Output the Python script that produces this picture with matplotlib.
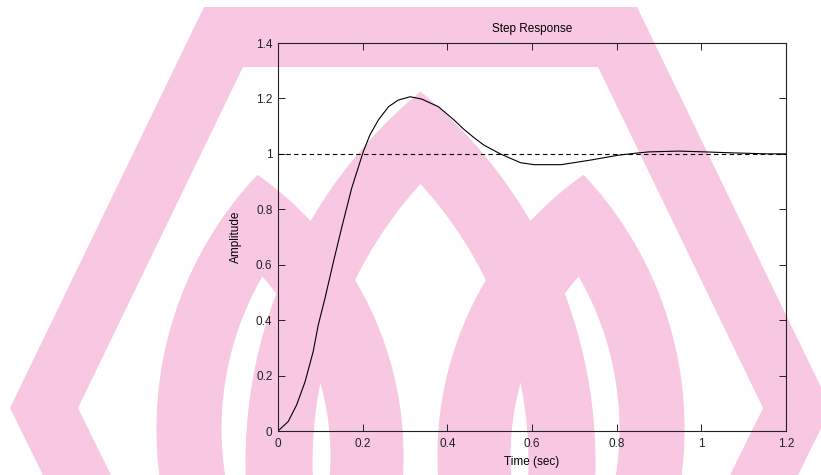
import numpy as np
import matplotlib
matplotlib.use("Agg")
import matplotlib.pyplot as plt
from matplotlib.path import Path
from matplotlib.patches import PathPatch, Polygon
from matplotlib.ticker import FuncFormatter

# step response
time = [0, 0.024, 0.044, 0.064, 0.083, 0.095, 0.111, 0.131, 0.150, 0.174,
        0.194, 0.2015, 0.217, 0.237, 0.261, 0.284, 0.312, 0.339, 0.379, 0.416,
        0.438, 0.465, 0.486, 0.525, 0.573, 0.605, 0.669, 0.740, 0.803, 0.843,
        0.875, 0.947, 1.010, 1.065, 1.11, 1.153, 1.2]
amp = [0, 0.034, 0.094, 0.178, 0.286, 0.382, 0.479, 0.611, 0.731, 0.876,
       0.972, 1.008, 1.068, 1.122, 1.170, 1.194, 1.206, 1.198, 1.170, 1.122,
       1.09, 1.056, 1.032, 1.0, 0.968, 0.961, 0.961, 0.978, 0.995, 1.002,
       1.007, 1.010, 1.007, 1.004, 1.002, 1.0, 1.0]
final_value = 1.0
xticks = [0, 0.2, 0.4, 0.6, 0.8, 1.0, 1.2]
yticks = [0, 0.2, 0.4, 0.6, 0.8, 1.0, 1.2, 1.4]

PINK = "#f8c8e2"
W, H = 821, 475


def meet(c1, r1, c2, r2):
    # upper crossing of two circles (pixel coords, y down)
    (x1, y1), (x2, y2) = c1, c2
    dx, dy = x2 - x1, y2 - y1
    d = np.hypot(dx, dy)
    a = (r1**2 - r2**2 + d**2) / (2 * d)
    h = np.sqrt(max(r1**2 - a**2, 0))
    mx, my = x1 + a * dx / d, y1 + a * dy / d
    p1 = (mx + h * dy / d, my - h * dx / d)
    p2 = (mx - h * dy / d, my + h * dx / d)
    return p1 if p1[1] < p2[1] else p2


def leg(c, ro, ri, top_o, top_i, span=75):
    side = -1 if c[0] > top_o[0] else 1
    a_o = np.degrees(np.arctan2(top_o[1] - c[1], top_o[0] - c[0]))
    a_i = np.degrees(np.arctan2(top_i[1] - c[1], top_i[0] - c[0]))
    end = a_o + side * span
    t_o = np.radians(np.linspace(a_o, end, 80))
    t_i = np.radians(np.linspace(end, a_i, 80))
    pts = np.vstack([np.c_[c[0] + ro * np.cos(t_o), c[1] + ro * np.sin(t_o)],
                     np.c_[c[0] + ri * np.cos(t_i), c[1] + ri * np.sin(t_i)]])
    return pts


def arch(bg, left, right):
    # left/right = (centre, outer radius, inner radius)
    top_o = meet(left[0], left[1], right[0], right[1])
    top_i = meet(left[0], left[2], right[0], right[2])
    for c, ro, ri in (left, right):
        bg.add_patch(Polygon(leg(c, ro, ri, top_o, top_i), closed=True,
                             fc=PINK, ec=PINK, lw=0.8))


fig = plt.figure(figsize=(W / 100, H / 100), dpi=100)
fig.patch.set_facecolor("white")

# watermark behind the plot
bg = fig.add_axes([0, 0, 1, 1], zorder=-1)
bg.set_xlim(0, W)
bg.set_ylim(H, 0)
bg.axis("off")

outer = [(204, 7), (637, 7), (831, 408), (776, 520), (65, 520), (10, 408)]
inner = [(243, 67), (598, 67), (763, 408), (708, 520), (133, 520), (78, 408)]
verts = outer + [outer[0]] + inner[::-1] + [inner[-1]]
codes = ([Path.MOVETO] + [Path.LINETO] * (len(outer) - 1) + [Path.CLOSEPOLY]) * 2
bg.add_patch(PathPatch(Path(verts, codes), fc=PINK, ec="none"))

mx = 841  # twice the mirror line
arch(bg, ((527, 429), 370, 306), ((60, 456), 343, 271))
arch(bg, ((727, 463), 481, 415), ((mx - 727, 463), 481, 415))
arch(bg, ((mx - 60, 456), 343, 271), ((mx - 527, 429), 370, 306))

# the chart
plt.rcParams["font.family"] = ["Liberation Sans", "DejaVu Sans"]
ax = fig.add_axes([278 / W, 1 - 431 / H, (786 - 278) / W, (431 - 43) / H])
ax.set_facecolor("none")
ax.axhline(final_value, color="black", lw=0.8, ls=(0, (4, 3)))
ax.plot(time, amp, color="black", lw=0.8)

ax.set_xlim(0, 1.2)
ax.set_ylim(0, 1.4)
ax.set_xticks(xticks)
ax.set_yticks(yticks)
fmt = FuncFormatter(lambda v, p: "%g" % round(v, 2))
ax.xaxis.set_major_formatter(fmt)
ax.yaxis.set_major_formatter(fmt)
ax.tick_params(direction="in", top=True, right=True, length=5, width=0.7,
               labelsize=8.5, colors="#222222")
ax.tick_params(axis="x", pad=5)
ax.tick_params(axis="y", pad=4)
for s in ax.spines.values():
    s.set_linewidth(0.8)
    s.set_color("#222222")

ax.set_title("Step Response", fontsize=8.5, pad=8)
ax.set_xlabel("Time (sec)", fontsize=8.5, labelpad=4)
ax.set_ylabel("Amplitude", fontsize=8.5, labelpad=10)

fig.savefig("out.png", dpi=100)
